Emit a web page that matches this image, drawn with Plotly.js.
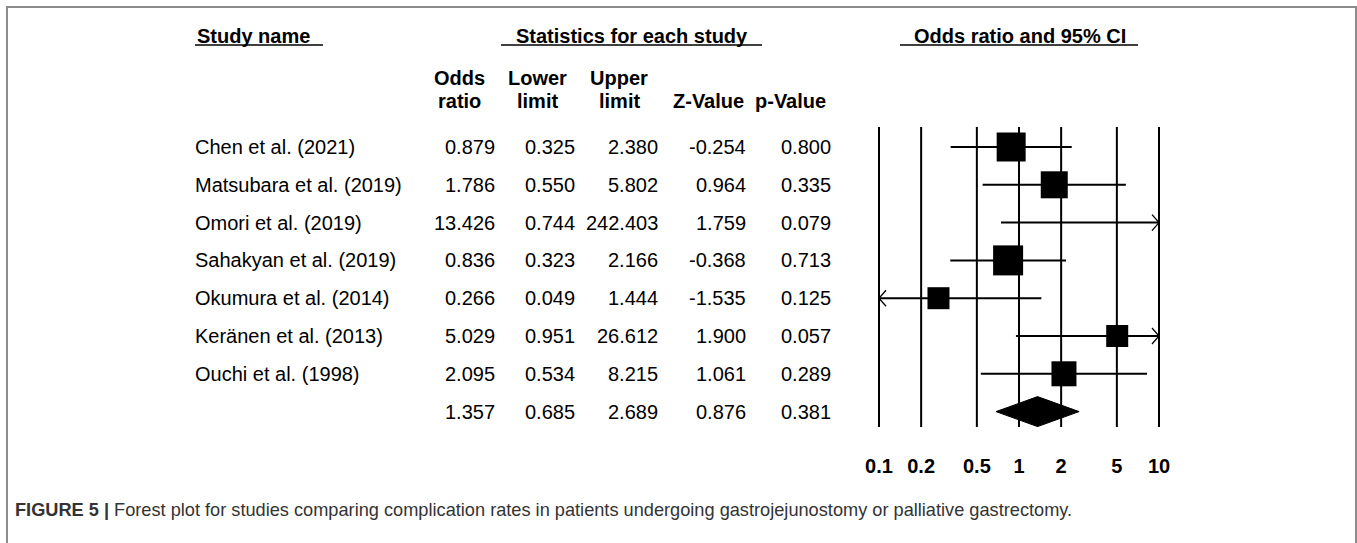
<!DOCTYPE html>
<html>
<head>
<meta charset="utf-8">
<script src="https://cdn.plot.ly/plotly-3.0.1.min.js"></script>
<style>
  html, body { margin: 0; padding: 0; background: #ffffff; }
  #chart { width: 1357px; height: 543px; }
</style>
</head>
<body>
<div id="chart"></div>
<script>
// ---------------- DATA ----------------
const studies = [
  "Chen et al. (2021)",
  "Matsubara et al. (2019)",
  "Omori et al. (2019)",
  "Sahakyan et al. (2019)",
  "Okumura et al. (2014)",
  "Keränen et al. (2013)",
  "Ouchi et al. (1998)"
];
const oddsRatio  = [0.879, 1.786, 13.426, 0.836, 0.266, 5.029, 2.095];
const lowerLimit = [0.325, 0.550, 0.744, 0.323, 0.049, 0.951, 0.534];
const upperLimit = [2.380, 5.802, 242.403, 2.166, 1.444, 26.612, 8.215];
const zValue     = [-0.254, 0.964, 1.759, -0.368, -1.535, 1.900, 1.061];
const pValue     = [0.800, 0.335, 0.079, 0.713, 0.125, 0.057, 0.289];
// pooled estimate: odds ratio, lower, upper, Z, p
const pooledStats = [1.357, 0.685, 2.689, 0.876, 0.381];
const tickValues = [0.1, 0.2, 0.5, 1, 2, 5, 10];
const tickLabels = ["0.1", "0.2", "0.5", "1", "2", "5", "10"];
const headerLine1 = ["Odds", "Lower", "Upper", "", ""];
const headerLine2 = ["ratio", "limit", "limit", "Z-Value", "p-Value"];

// ---------------- LAYOUT CONSTANTS / STYLES ----------------
const W = 1357, H = 543;
const ROW0 = 147, ROWH = 37.8;          // pixel y of first row, row spacing
const X0PX = 879, DEC = 140, XPAD = 0.05; // pixel x of 0.1, px per decade
const boxSize = [29, 27, 18, 30, 22, 22, 25];   // square marker sizes (px)
const colRight = [497, 577, 660, 748, 833];     // right edges of number columns
const colCenter = [459, 537, 619, 708, 790];    // header centres
const nameLeft = 193;
const FONT = "Liberation Sans, Arial, Helvetica, sans-serif";
const px2row = p => (p - ROW0) / ROWH;
const pxX = p => p / W;
const pxY = p => 1 - p / H;
const AX_MIN = tickValues[0], AX_MAX = tickValues[tickValues.length - 1];

const nRows = studies.length;
const fmt = v => v.toFixed(3);

// ---------------- TRACES ----------------
const wx = [], wy = [];
studies.forEach((s, i) => {
  wx.push(Math.max(lowerLimit[i], AX_MIN), Math.min(upperLimit[i], AX_MAX), null);
  wy.push(i, i, null);
});
const whiskers = {
  x: wx, y: wy, mode: "lines", type: "scatter",
  line: { color: "#000", width: 2 }, hoverinfo: "skip", showlegend: false
};

// arrow heads for intervals running off the axis
const ax = [], ay = [];
const back = Math.pow(10, 7 / DEC), half = 8 / ROWH;
studies.forEach((s, i) => {
  if (upperLimit[i] > AX_MAX) {
    ax.push(AX_MAX / back, AX_MAX, AX_MAX / back, null);
    ay.push(i - half, i, i + half, null);
  }
  if (lowerLimit[i] < AX_MIN) {
    ax.push(AX_MIN * back, AX_MIN, AX_MIN * back, null);
    ay.push(i - half, i, i + half, null);
  }
});
const arrows = {
  x: ax, y: ay, mode: "lines", type: "scatter",
  line: { color: "#000", width: 1.3 }, hoverinfo: "skip", showlegend: false
};

const squares = {
  x: oddsRatio, y: studies.map((s, i) => i), mode: "markers", type: "scatter",
  marker: { symbol: "square", size: boxSize, color: "#000", opacity: 1, line: { width: 0 } },
  hoverinfo: "skip", showlegend: false, cliponaxis: true
};

const dh = 15 / ROWH;
const diamond = {
  x: [pooledStats[1], pooledStats[0], pooledStats[2], pooledStats[0], pooledStats[1]],
  y: [nRows, nRows - dh, nRows, nRows + dh, nRows],
  mode: "lines", type: "scatter", fill: "toself", fillcolor: "#000",
  line: { color: "#000", width: 1 }, hoverinfo: "skip", showlegend: false
};

// ---------------- SHAPES ----------------
const shapes = [];
tickValues.forEach(v => {
  shapes.push({
    type: "line", xref: "x", yref: "y", x0: v, x1: v,
    y0: px2row(127), y1: px2row(427), layer: "below",
    line: { color: "#000", width: 2 }
  });
});
[[195, 323], [501, 762], [900, 1138]].forEach(([a, b]) => {
  shapes.push({
    type: "line", xref: "paper", yref: "paper",
    x0: pxX(a), x1: pxX(b), y0: pxY(45), y1: pxY(45),
    line: { color: "#000", width: 1.5 }
  });
});
shapes.push({
  type: "rect", xref: "paper", yref: "paper",
  x0: pxX(7), x1: pxX(1356), y0: pxY(7), y1: -0.2,
  line: { color: "#8c8c8c", width: 2 }, fillcolor: "rgba(0,0,0,0)"
});

// ---------------- ANNOTATIONS ----------------
const ann = [];
const textFont = { family: FONT, size: 20, color: "#000" };
const boldFont = { family: FONT, size: 20, color: "#000", weight: "bold" };

ann.push({ text: "Study name", x: pxX(195), y: pxY(36), xref: "paper", yref: "paper",
  xanchor: "left", yanchor: "middle", showarrow: false, font: boldFont });
ann.push({ text: "Statistics for each study", x: pxX(632), y: pxY(36), xref: "paper", yref: "paper",
  xanchor: "center", yanchor: "middle", showarrow: false, font: boldFont });
ann.push({ text: "Odds ratio and 95% CI", x: pxX(1020), y: pxY(36), xref: "paper", yref: "paper",
  xanchor: "center", yanchor: "middle", showarrow: false, font: boldFont });

colCenter.forEach((c, k) => {
  if (headerLine1[k]) ann.push({ text: headerLine1[k], x: pxX(c), y: pxY(78), xref: "paper", yref: "paper",
    xanchor: "center", yanchor: "middle", showarrow: false, font: boldFont });
  ann.push({ text: headerLine2[k], x: pxX(c), y: pxY(101), xref: "paper", yref: "paper",
    xanchor: "center", yanchor: "middle", showarrow: false, font: boldFont });
});

studies.forEach((s, i) => {
  ann.push({ text: s, x: pxX(nameLeft), y: i, xref: "paper", yref: "y",
    xanchor: "left", yanchor: "middle", showarrow: false, font: textFont });
  const vals = [oddsRatio[i], lowerLimit[i], upperLimit[i], zValue[i], pValue[i]];
  vals.forEach((v, k) => {
    ann.push({ text: fmt(v), x: pxX(colRight[k]), y: i, xref: "paper", yref: "y",
      xanchor: "right", yanchor: "middle", showarrow: false, font: textFont });
  });
});
pooledStats.forEach((v, k) => {
  ann.push({ text: fmt(v), x: pxX(colRight[k]), y: nRows, xref: "paper", yref: "y",
    xanchor: "right", yanchor: "middle", showarrow: false, font: textFont });
});

ann.push({
  text: "<b>FIGURE 5 |</b> Forest plot for studies comparing complication rates in patients undergoing gastrojejunostomy or palliative gastrectomy.",
  x: pxX(13), y: pxY(510), xref: "paper", yref: "paper", xanchor: "left", yanchor: "middle",
  showarrow: false, font: { family: FONT, size: 18.2, color: "#333" }
});

// ---------------- LAYOUT ----------------
const layout = {
  width: W, height: H,
  margin: { l: 0, r: 0, t: 0, b: 0, pad: 0 },
  paper_bgcolor: "#fff", plot_bgcolor: "rgba(0,0,0,0)",
  showlegend: false,
  xaxis: {
    type: "log",
    domain: [pxX(X0PX - XPAD * DEC), pxX(X0PX + 2 * DEC + XPAD * DEC)],
    range: [-1 - XPAD, 1 + XPAD], autorange: false,
    tickvals: tickValues, ticktext: tickLabels,
    showgrid: false, zeroline: false, showline: false, ticks: "",
    anchor: "free", position: pxY(452),
    tickfont: { family: FONT, size: 20, color: "#000", weight: "bold" },
    fixedrange: true
  },
  yaxis: {
    domain: [0, 1], range: [(H - ROW0) / ROWH, -ROW0 / ROWH], autorange: false,
    visible: false, showgrid: false, zeroline: false, fixedrange: true
  },
  shapes: shapes,
  annotations: ann
};

Plotly.newPlot("chart", [whiskers, arrows, diamond, squares], layout, { displayModeBar: false, staticPlot: true });
</script>
</body>
</html>
